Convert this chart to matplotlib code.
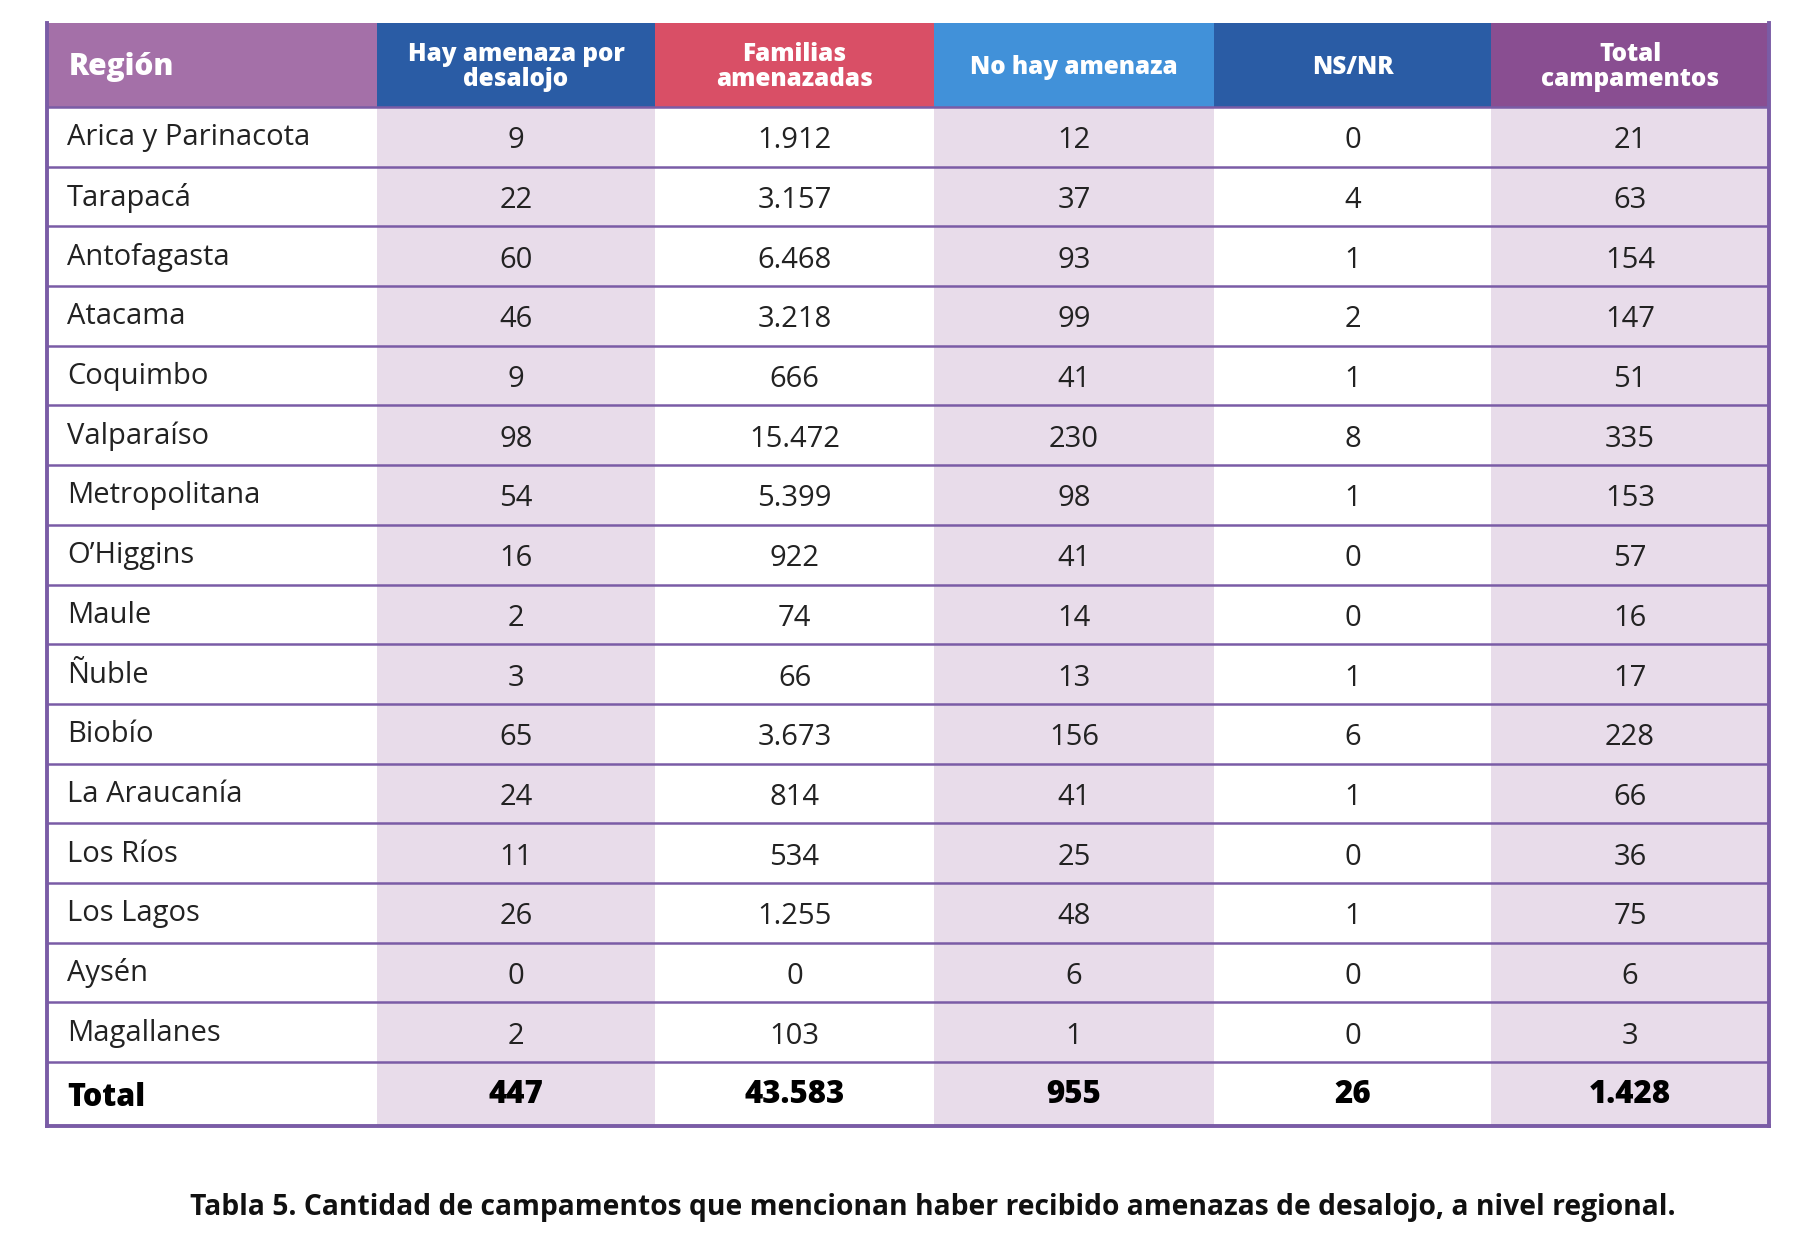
import matplotlib.pyplot as plt
from matplotlib.patches import Rectangle

regiones = ['Arica y Parinacota', 'Tarapacá', 'Antofagasta', 'Atacama', 'Coquimbo',
            'Valparaíso', 'Metropolitana', 'O’Higgins', 'Maule', 'Ñuble', 'Biobío',
            'La Araucanía', 'Los Ríos', 'Los Lagos', 'Aysén', 'Magallanes']
hay_amenaza = ['9', '22', '60', '46', '9', '98', '54', '16', '2', '3', '65', '24', '11', '26', '0', '2']
familias = ['1.912', '3.157', '6.468', '3.218', '666', '15.472', '5.399', '922', '74', '66',
            '3.673', '814', '534', '1.255', '0', '103']
no_hay = ['12', '37', '93', '99', '41', '230', '98', '41', '14', '13', '156', '41', '25', '48', '6', '1']
nsnr = ['0', '4', '1', '2', '1', '8', '1', '0', '0', '1', '6', '1', '0', '1', '0', '0']
total_camp = ['21', '63', '154', '147', '51', '335', '153', '57', '16', '17', '228', '66', '36', '75', '6', '3']
totales = ['Total', '447', '43.583', '955', '26', '1.428']
encabezados = ['Región', 'Hay amenaza por\ndesalojo', 'Familias\namenazadas',
               'No hay amenaza', 'NS/NR', 'Total\ncampamentos']
caption = 'Tabla 5. Cantidad de campamentos que mencionan haber recibido amenazas de desalojo, a nivel regional.'

head_colors = ['#a470a8', '#2a5ca5', '#d94f66', '#4191d9', '#2a5ca5', '#894e91']
col_bg = ['white', '#e8dcea', 'white', '#e8dcea', 'white', '#e8dcea']
line_c = '#7a5ca6'

W, H = 1802, 1234
fig = plt.figure(figsize=(W / 100, H / 100), dpi=100)
ax = fig.add_axes([0, 0, 1, 1])
ax.set_xlim(0, W)
ax.set_ylim(H, 0)
ax.axis('off')
plt.rcParams['font.family'] = ['Open Sans', 'DejaVu Sans']

xs = [47, 377, 655, 934, 1214, 1491, 1769]
top, head_bot = 23, 107
row_h = (1062 - head_bot) / len(regiones)
bottom = 1126
ys = [head_bot + i * row_h for i in range(len(regiones) + 1)] + [bottom]

# column backgrounds and header cells
for j in range(6):
    ax.add_patch(Rectangle((xs[j], head_bot), xs[j + 1] - xs[j], bottom - head_bot,
                           facecolor=col_bg[j], edgecolor='none'))
    ax.add_patch(Rectangle((xs[j], top), xs[j + 1] - xs[j], head_bot - top,
                           facecolor=head_colors[j], edgecolor='none'))
    if j == 0:
        ax.text(xs[0] + 22, (top + head_bot) / 2 + 2, encabezados[0], ha='left', va='center',
                color='white', fontsize=21.5, fontweight='extra bold')
    else:
        ax.text((xs[j] + xs[j + 1]) / 2, (top + head_bot) / 2 + 2, encabezados[j],
                ha='center', va='center', color='white', fontsize=17.5,
                fontweight='extra bold', linespacing=1.0)

cols = [regiones, hay_amenaza, familias, no_hay, nsnr, total_camp]
for i in range(len(regiones)):
    yc = (ys[i] + ys[i + 1]) / 2
    for j in range(6):
        if j == 0:
            ax.text(xs[0] + 20, yc + 1, cols[0][i], ha='left', va='center',
                    fontsize=21, color='#222222')
        else:
            ax.text((xs[j] + xs[j + 1]) / 2, yc + 4, cols[j][i], ha='center',
                    va='center', fontsize=21, color='#222222')

yc = (ys[-2] + ys[-1]) / 2
for j in range(6):
    if j == 0:
        ax.text(xs[0] + 20, yc + 4, totales[0], ha='left', va='center',
                fontsize=22, fontweight='extra bold', color='black')
    else:
        ax.text((xs[j] + xs[j + 1]) / 2, yc + 1, totales[j], ha='center', va='center',
                fontsize=22.5, fontweight='extra bold', color='black')

# grid lines
for y in ys[:-1]:
    ax.plot([xs[0], xs[-1]], [y, y], color=line_c, lw=1.8, solid_capstyle='butt')
ax.plot([xs[0], xs[-1]], [bottom, bottom], color=line_c, lw=2.8)
ax.plot([xs[0], xs[0]], [top, bottom], color=line_c, lw=2.8)
ax.plot([xs[-1], xs[-1]], [top, bottom], color=line_c, lw=2.8)

ax.text(933, 1208, caption, ha='center', va='center', fontsize=20.3,
        fontweight='bold', color='#111111')

fig.savefig('out.png', dpi=100)
